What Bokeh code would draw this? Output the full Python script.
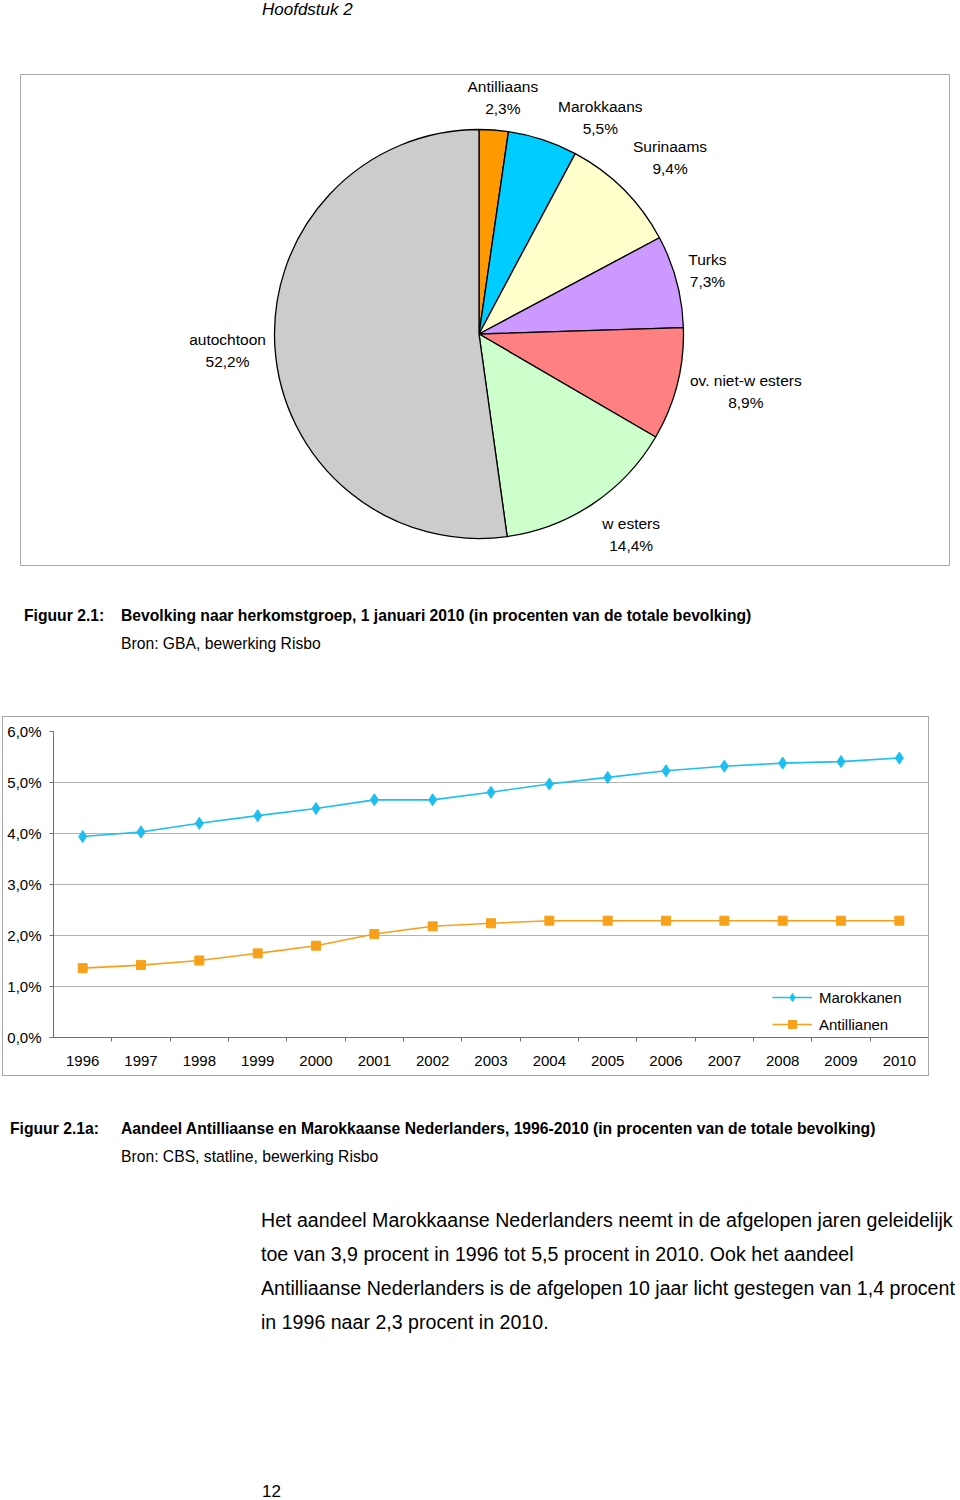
import math
from bokeh.plotting import figure
from bokeh.models import Div, Range1d, FixedTicker, Legend, LegendItem, ColumnDataSource
from bokeh.layouts import column, row
from bokeh.core.properties import value
from bokeh.embed import file_html
from bokeh.resources import INLINE

FONT = "Liberation Sans"

# ---------------- data: pie ----------------
pie_names = ["Antilliaans", "Marokkaans", "Surinaams", "Turks",
             "ov. niet-w esters", "w esters", "autochtoon"]
pie_values = [2.3, 5.5, 9.4, 7.3, 8.9, 14.4, 52.2]
pie_value_texts = ["2,3%", "5,5%", "9,4%", "7,3%", "8,9%", "14,4%", "52,2%"]
pie_colors = ["#FF9900", "#00CCFF", "#FFFFCC", "#CC99FF",
              "#FF8080", "#CCFFCC", "#CCCCCC"]

# label placement (style): distance from centre and angular shift (degrees)
label_radius = [238, 248, 260, 237, 273, 252, 252]
label_angle_shift = [1.6, 11.1, 2.3, -0.5, -2.0, -3.3, 0.3]

# ---------------- data: line chart ----------------
years = [1996, 1997, 1998, 1999, 2000, 2001, 2002, 2003,
         2004, 2005, 2006, 2007, 2008, 2009, 2010]
marokkanen = [3.94, 4.03, 4.20, 4.35, 4.49, 4.66, 4.66, 4.81,
              4.97, 5.10, 5.23, 5.32, 5.38, 5.41, 5.48]
antillianen = [1.36, 1.42, 1.51, 1.65, 1.80, 2.03, 2.18, 2.24,
               2.29, 2.29, 2.29, 2.29, 2.29, 2.29, 2.29]
y_ticks = [0, 1, 2, 3, 4, 5, 6]
y_tick_labels = ["0,0%", "1,0%", "2,0%", "3,0%", "4,0%", "5,0%", "6,0%"]

# ---------------- header ----------------
header = Div(
    text=f'<div style="padding-left:262px; padding-top:0px; font-family:\'{FONT}\'; '
         f'font-style:italic; font-size:17px; line-height:20px; color:#000;">Hoofdstuk 2</div>',
    width=952, height=72, margin=0)

# ---------------- pie figure ----------------
FW, FH = 929, 491
pie = figure(width=20 + FW + 3, height=495, output_backend="svg", toolbar_location=None,
             x_range=Range1d(0, FW), y_range=Range1d(0, FH),
             x_axis_location=None, y_axis_location=None,
             min_border_left=20, min_border_right=3, min_border_top=2, min_border_bottom=2,
             margin=0)
pie.grid.visible = False
pie.outline_line_color = "#A6A6A6"
pie.outline_line_width = 1
pie.background_fill_color = "white"
pie.border_fill_color = None

cx, cy, R = 458.5, 231.5, 204.5
total = sum(pie_values)
starts, ends, mids = [], [], []
acc = 0.0
for v in pie_values:
    a0 = acc / total
    acc += v
    a1 = acc / total
    starts.append(math.pi / 2 - 2 * math.pi * a0)
    ends.append(math.pi / 2 - 2 * math.pi * a1)
    mids.append(360.0 * (a0 + a1) / 2)

src = ColumnDataSource(dict(start=starts, end=ends, color=pie_colors))
pie.wedge(x=cx, y=cy, radius=R, start_angle="start", end_angle="end",
          direction="clock", fill_color="color", line_color="black",
          line_width=1.3, source=src)

lx, ly = [], []
for m, r, s in zip(mids, label_radius, label_angle_shift):
    ang = math.radians(m + s)
    lx.append(cx + r * math.sin(ang))
    ly.append(cy + r * math.cos(ang))
pie.text(x=lx, y=[y + 11 for y in ly], text=pie_names, text_align="center",
         text_baseline="middle", text_font=value(FONT), text_font_size="15.5px",
         text_color="black")
pie.text(x=lx, y=[y - 11 for y in ly], text=pie_value_texts, text_align="center",
         text_baseline="middle", text_font=value(FONT), text_font_size="15.5px",
         text_color="black")

pie_box = row(pie, margin=0)

# ---------------- captions ----------------
def caption(label, label_w, pad_left, title, source, pad_top, height):
    return Div(text=(
        f'<div style="padding-top:{pad_top}px; padding-left:{pad_left}px; '
        f'font-family:\'{FONT}\'; font-size:15.7px; line-height:28px; color:#000; white-space:nowrap;">'
        f'<span style="display:inline-block; width:{label_w}px; font-weight:bold;">{label}</span>'
        f'<span style="font-weight:bold;">{title}</span><br>'
        f'<span style="display:inline-block; width:{label_w}px;"></span>{source}</div>'),
        width=952, height=height, margin=0)

cap1 = caption("Figuur 2.1:", 97, 24,
               "Bevolking naar herkomstgroep, 1 januari 2010 (in procenten van de totale bevolking)",
               "Bron: GBA, bewerking Risbo", 35, 149)

# ---------------- line chart ----------------
lc = figure(width=927, height=360, output_backend="svg", toolbar_location=None,
            x_range=Range1d(1995.5, 2010.5), y_range=Range1d(0, 6),
            min_border_left=50, min_border_right=2, min_border_top=14, min_border_bottom=40,
            styles={"border": "1px solid #A6A6A6"}, margin=(0, 0, 0, 2))
lc.outline_line_color = None
lc.background_fill_color = "white"
lc.border_fill_color = "white"

lc.xgrid.visible = False
lc.ygrid.ticker = FixedTicker(ticks=y_ticks)
lc.ygrid.grid_line_color = "#B3B3B3"
lc.ygrid.grid_line_width = 1

lc.yaxis.ticker = FixedTicker(ticks=y_ticks)
lc.yaxis.major_label_overrides = {t: l for t, l in zip(y_ticks, y_tick_labels)}
lc.yaxis.axis_line_color = "#6E6E6E"
lc.yaxis.major_tick_line_color = "#6E6E6E"
lc.yaxis.major_tick_out = 4
lc.yaxis.major_tick_in = 0
lc.yaxis.minor_tick_line_color = None
lc.yaxis.major_label_standoff = 8

lc.xaxis.ticker = FixedTicker(ticks=years, minor_ticks=[y + 0.5 for y in years[:-1]])
lc.xaxis.major_label_overrides = {y: str(y) for y in years}
lc.xaxis.axis_line_color = "#6E6E6E"
lc.xaxis.major_tick_line_color = None
lc.xaxis.minor_tick_line_color = "#6E6E6E"
lc.xaxis.minor_tick_out = 4
lc.xaxis.minor_tick_in = 0
lc.xaxis.major_label_standoff = 12

for ax in (lc.xaxis, lc.yaxis):
    ax.major_label_text_font = FONT
    ax.major_label_text_font_size = "15px"
    ax.major_label_text_color = "black"

C_MAR = "#1CBFEE"
C_ANT = "#F7A11A"
l1 = lc.line(years, marokkanen, line_color=C_MAR, line_width=1.6)
m1 = lc.scatter(years, marokkanen, marker="diamond", size=12,
                fill_color=C_MAR, line_color=C_MAR)
l2 = lc.line(years, antillianen, line_color=C_ANT, line_width=1.6)
m2 = lc.scatter(years, antillianen, marker="square", size=9, fill_color=C_ANT, line_color=C_ANT)

legend = Legend(items=[LegendItem(label="Marokkanen", renderers=[l1, m1]),
                       LegendItem(label="Antillianen", renderers=[l2, m2])],
                location=(719, 3), orientation="vertical",
                glyph_width=40, glyph_height=20, label_height=20,
                spacing=7, padding=6, margin=0, label_standoff=7,
                border_line_color=None, background_fill_color="white",
                background_fill_alpha=1.0,
                label_text_font=FONT, label_text_font_size="15px",
                label_text_color="black")
lc.add_layout(legend)

lc_box = row(lc, margin=0)

cap2 = caption("Figuur 2.1a:", 111, 10,
               "Aandeel Antilliaanse en Marokkaanse Nederlanders, 1996-2010 (in procenten van de totale bevolking)",
               "Bron: CBS, statline, bewerking Risbo", 39, 114)

# ---------------- paragraph ----------------
para = Div(text=(
    f'<div style="padding-top:13px; padding-left:261px; font-family:\'{FONT}\'; '
    f'font-size:19.6px; line-height:34px; color:#000; white-space:nowrap;">'
    'Het aandeel Marokkaanse Nederlanders neemt in de afgelopen jaren geleidelijk<br>'
    'toe van 3,9 procent in 1996 tot 5,5 procent in 2010. Ook het aandeel<br>'
    'Antilliaanse Nederlanders is de afgelopen 10 jaar licht gestegen van 1,4 procent<br>'
    'in 1996 naar 2,3 procent in 2010.</div>'),
    width=952, height=150, margin=0)

pagenum = Div(text=(
    f'<div style="padding-top:143px; padding-left:262px; font-family:\'{FONT}\'; '
    f'font-size:17px; line-height:18px; color:#000;">12</div>'),
    width=952, height=161, margin=0)

layout = column(header, pie_box, cap1, lc_box, cap2, para, pagenum, spacing=0, margin=0)

open("out.html", "w").write(file_html(layout, INLINE))
